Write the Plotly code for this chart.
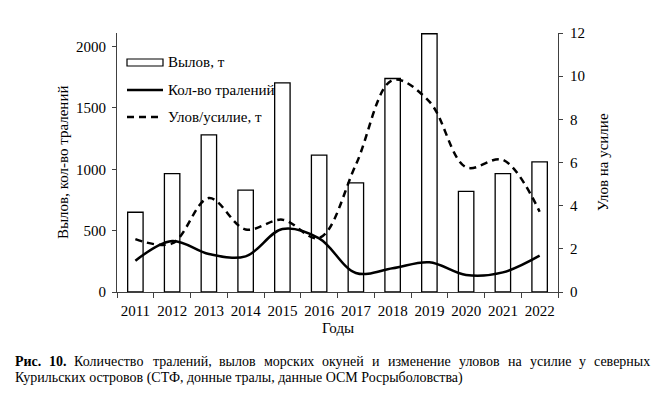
import plotly.graph_objects as go

# ---- data ----
years = [str(y) for y in range(2011, 2023)]
catch_t = [650, 965, 1280, 830, 1705, 1115, 890, 1740, 2105, 820, 965, 1060]
hauls = [255, 416, 310, 290, 513, 437, 155, 193, 242, 139, 160, 296]
cpue = [2.45, 2.25, 4.35, 2.9, 3.35, 2.5, 5.9, 9.82, 8.82, 5.78, 6.12, 3.72]

legend_names = ["Вылов, т", "Кол-во тралений", "Улов/усилие, т"]
y1_title = "Вылов, кол-во тралений"
y2_title = "Улов на усилие"
x_title = "Годы"
caption1_words = ["Рис.", "10.", "Количество", "тралений,", "вылов", "морских", "окуней",
                  "и", "изменение", "уловов", "на", "усилие", "у", "северных"]
caption2 = "Курильских островов (СТФ, донные тралы, данные ОСМ Росрыболовства)"

# ---- layout helpers ----
W, H = 655, 394
L, R, T, B = 117, 558, 33, 292
FONT = "'Times New Roman', 'Liberation Serif', 'DejaVu Serif', serif"


def px(x):
    return (x - L) / (R - L)


def py(y):
    return (B - y) / (B - T)


fig = go.Figure()
fig.add_trace(go.Bar(x=years, y=catch_t, name=legend_names[0], width=0.42,
                     marker=dict(color="white", line=dict(color="black", width=1.3)),
                     showlegend=False))
fig.add_trace(go.Scatter(x=years, y=hauls, name=legend_names[1], mode="lines",
                         line=dict(color="black", width=2.5, shape="spline", smoothing=1.0),
                         showlegend=False))
fig.add_trace(go.Scatter(x=years, y=cpue, name=legend_names[2], mode="lines", yaxis="y2",
                         line=dict(color="black", width=2.5, shape="spline", smoothing=1.0,
                                   dash="7px,5px"),
                         showlegend=False))

axis_common = dict(showgrid=False, zeroline=False, showline=True, linecolor="#404040",
                   linewidth=1, ticks="outside", tickcolor="#404040",
                   tickfont=dict(family=FONT, size=15, color="black"))

fig.update_layout(
    width=W, height=H,
    margin=dict(l=L, r=W - R, t=T, b=H - B, pad=0),
    paper_bgcolor="white", plot_bgcolor="white",
    font=dict(family=FONT, size=15, color="black"),
    xaxis=dict(**axis_common, type="category", range=[-0.5, 11.5], tickson="boundaries",
               tickangle=0, ticklen=5, ticklabelstandoff=5),
    yaxis=dict(**axis_common, range=[0, 2111], dtick=500, ticklen=4, ticklabelstandoff=3),
    yaxis2=dict(**axis_common, range=[0, 12], dtick=2, overlaying="y", side="right", ticklen=4,
                ticklabelstandoff=4),
)

ann = []
# axis titles
ann.append(dict(text=y1_title, x=px(63), y=py(163), xref="paper", yref="paper", textangle=-90,
                xanchor="center", yanchor="middle", showarrow=False,
                font=dict(family=FONT, size=15)))
ann.append(dict(text=y2_title, x=px(603), y=py(162), xref="paper", yref="paper", textangle=-90,
                xanchor="center", yanchor="middle", showarrow=False,
                font=dict(family=FONT, size=15)))
ann.append(dict(text=x_title, x=px(338), y=py(328), xref="paper", yref="paper",
                xanchor="center", yanchor="middle", showarrow=False,
                font=dict(family=FONT, size=15)))

# manual legend
shapes = [
    dict(type="rect", xref="paper", yref="paper", x0=px(127), x1=px(163), y0=py(66), y1=py(59),
         line=dict(color="black", width=1.2), fillcolor="white"),
    dict(type="line", xref="paper", yref="paper", x0=px(127), x1=px(163), y0=py(90), y1=py(90),
         line=dict(color="black", width=2.5)),
    dict(type="line", xref="paper", yref="paper", x0=px(127), x1=px(163), y0=py(117), y1=py(117),
         line=dict(color="black", width=2.5, dash="7px,5px")),
]
for name, yy in zip(legend_names, [62, 90, 117]):
    ann.append(dict(text=name, x=px(166), y=py(yy), xref="paper", yref="paper", xanchor="left",
                    yanchor="middle", showarrow=False, font=dict(family=FONT, size=15)))

# caption (line 1 justified word by word)
word_x = [12.7, 46.5, 72, 151, 217, 262, 320, 370, 385.5, 457, 506, 527.5, 576.5, 591.5]
for i, (w, xx) in enumerate(zip(caption1_words, word_x)):
    txt = f"<b>{w}</b>" if i < 2 else w
    ann.append(dict(text=txt, x=px(xx), y=py(361), xref="paper", yref="paper", xanchor="left",
                    yanchor="middle", showarrow=False, font=dict(family=FONT, size=14)))
ann.append(dict(text=caption2, x=px(12.7), y=py(378), xref="paper", yref="paper", xanchor="left",
                yanchor="middle", showarrow=False, font=dict(family=FONT, size=14)))

fig.update_layout(annotations=ann, shapes=shapes)
fig.write_html("out.html", config={"displayModeBar": False},
               post_script="document.body.style.margin='0';document.body.style.overflow='hidden';")
